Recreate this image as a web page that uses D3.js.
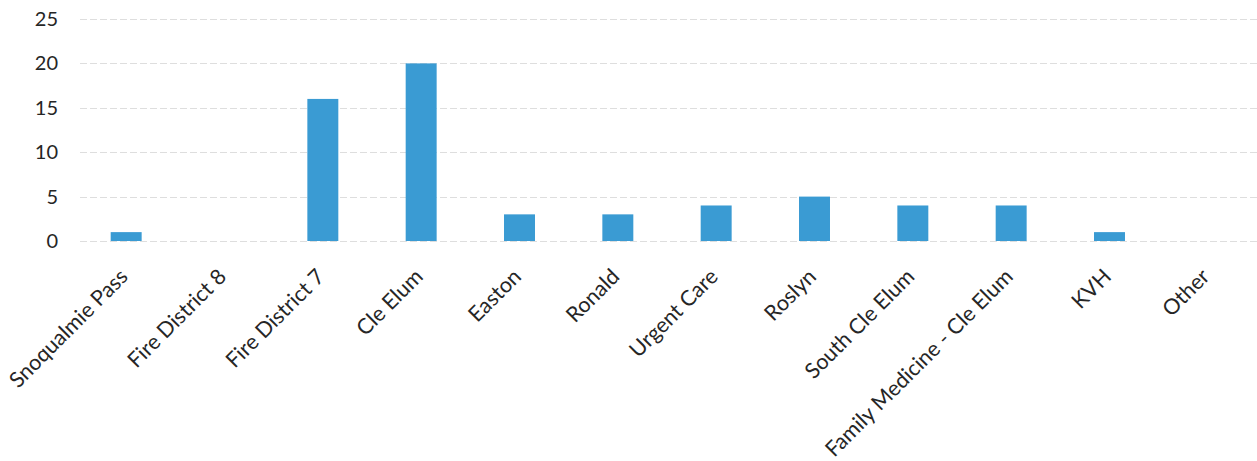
<!DOCTYPE html>
<html>
<head>
<meta charset="utf-8">
<script src="https://cdn.jsdelivr.net/npm/d3@7"></script>
<style>
  body { margin: 0; background: #fff; }
</style>
</head>
<body>
<div id="chart"></div>
<script>
var categories = ["Snoqualmie Pass", "Fire District 8", "Fire District 7", "Cle Elum", "Easton", "Ronald",
                  "Urgent Care", "Roslyn", "South Cle Elum", "Family Medicine - Cle Elum", "KVH", "Other"];
var values = [1, 0, 16, 20, 3, 3, 4, 5, 4, 4, 1, 0];
var yTicks = [0, 5, 10, 15, 20, 25];

var width = 1257, height = 461;
var margin = { top: 19, left: 77, right: 0, bottom: 220 };
var font = "Lato, 'Open Sans', sans-serif";

var svg = d3.select("#chart")
  .append("svg")
  .attr("width", width)
  .attr("height", height);

var x = d3.scaleBand()
  .domain(categories)
  .range([margin.left, width - margin.right])
  .paddingInner(0.685)
  .paddingOuter(0.3425);

var y = d3.scaleLinear()
  .domain([0, 25])
  .range([height - margin.bottom, margin.top]);

// gridlines
svg.append("g")
  .selectAll("line")
  .data(yTicks)
  .enter().append("line")
  .attr("x1", 80)
  .attr("x2", width)
  .attr("y1", function (d) { return Math.round(y(d)) + 0.5; })
  .attr("y2", function (d) { return Math.round(y(d)) + 0.5; })
  .attr("stroke", "#dedede")
  .attr("stroke-width", 1)
  .attr("stroke-dasharray", "7,3");

// y axis
var yAxis = d3.axisLeft(y).tickValues(yTicks).tickSize(0).tickPadding(0);
svg.append("g")
  .attr("transform", "translate(58,0)")
  .call(yAxis)
  .call(function (g) { g.select(".domain").remove(); })
  .selectAll("text")
  .style("font-size", "20px")
  .style("font-family", font)
  .attr("fill", "#262626");

// bars
svg.append("g")
  .selectAll("rect")
  .data(values)
  .enter().append("rect")
  .attr("x", function (d, i) { return x(categories[i]); })
  .attr("y", function (d) { return y(d); })
  .attr("width", x.bandwidth())
  .attr("height", function (d) { return y(0) - y(d); })
  .attr("fill", "#3a9bd3");

// x labels
var xAxis = d3.axisBottom(x).tickSize(0).tickPadding(0);
svg.append("g")
  .attr("transform", "translate(0," + y(0) + ")")
  .call(xAxis)
  .call(function (g) { g.select(".domain").remove(); })
  .selectAll("text")
  .style("font-size", "21.5px")
  .style("font-family", font)
  .attr("fill", "#262626")
  .attr("text-anchor", "end")
  .attr("dy", "0")
  .attr("transform", "translate(3,37) rotate(-45)");
</script>
</body>
</html>
